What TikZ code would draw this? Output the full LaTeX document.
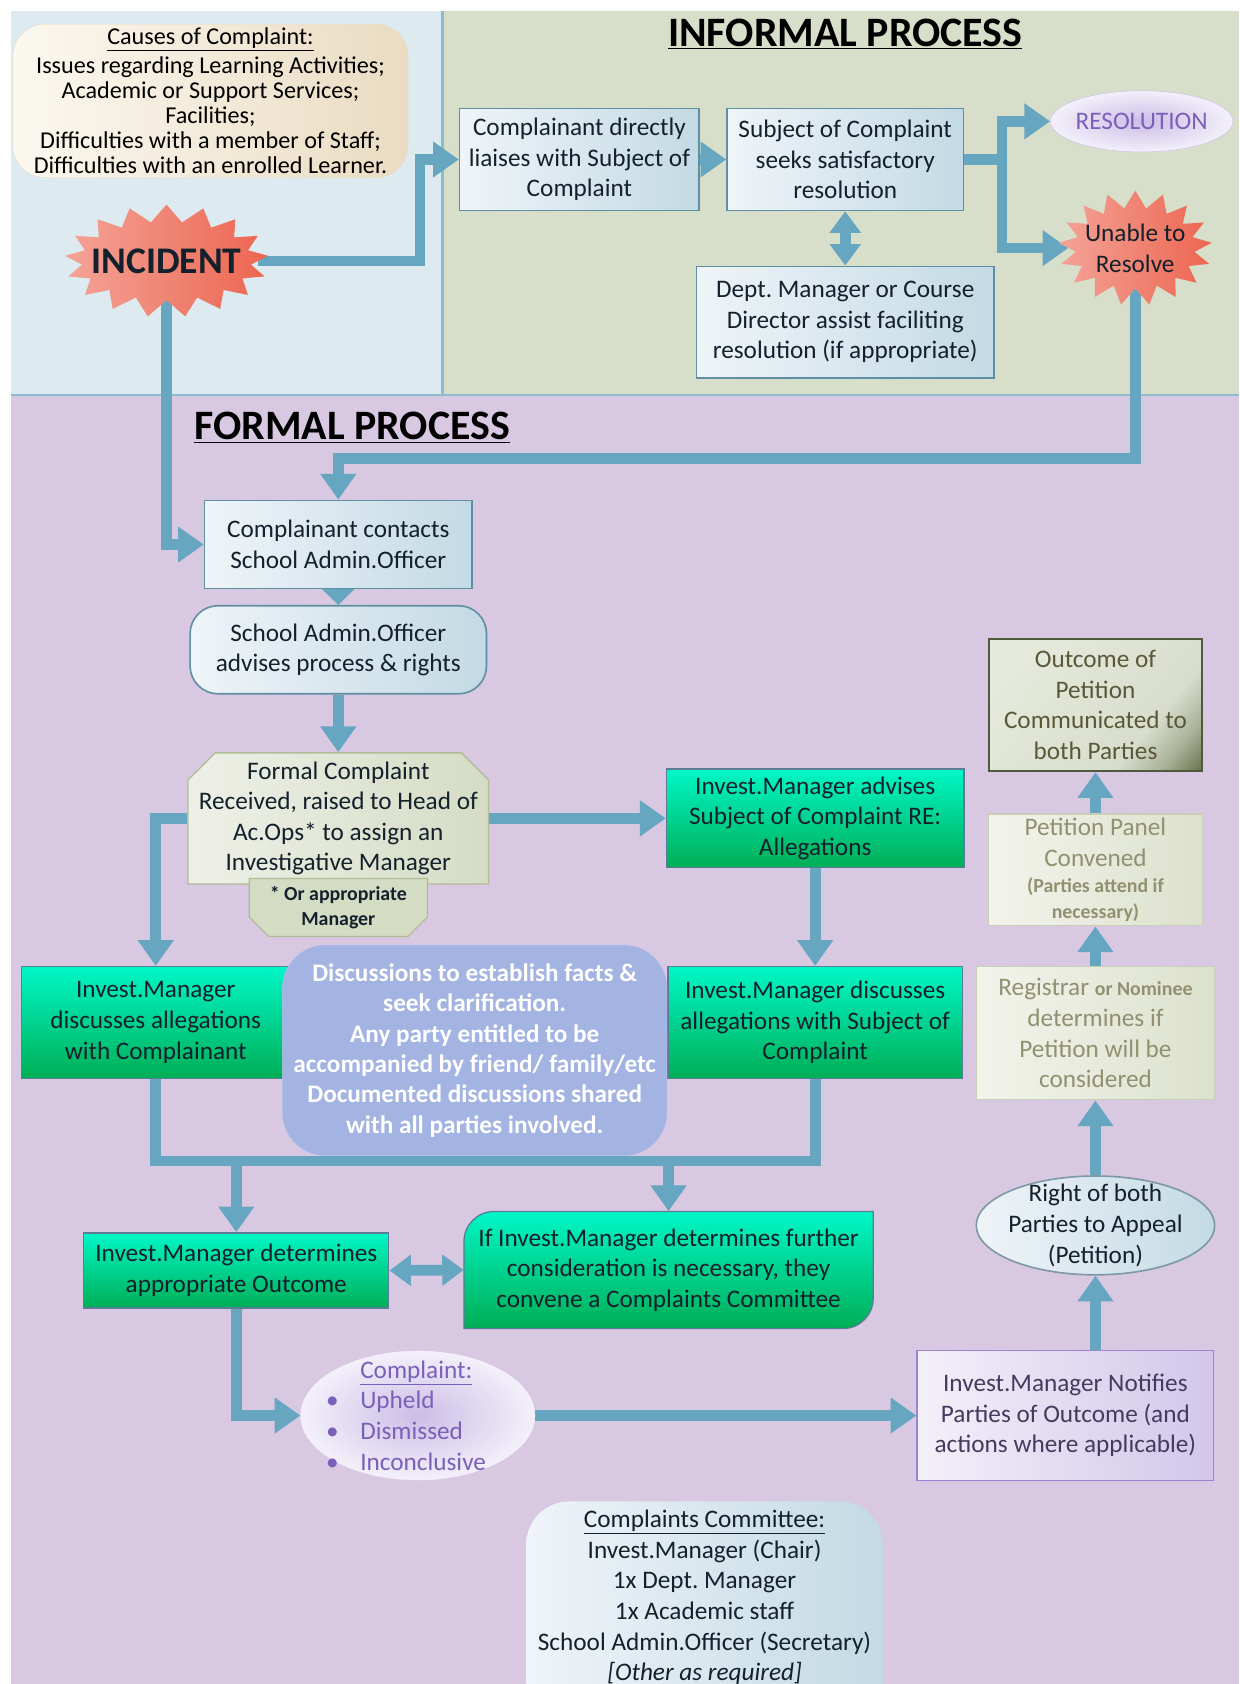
\documentclass[tikz,border=0pt]{standalone}
\usepackage{fontspec}
\setmainfont{Carlito}
\usetikzlibrary{arrows.meta,shapes.symbols,shapes.misc,shapes.geometric}

\definecolor{pipeblue}{HTML}{67A6C0}
\definecolor{paneblue}{HTML}{DDEBF1}
\definecolor{panegreen}{HTML}{D7DFCB}
\definecolor{panepurple}{HTML}{D8C8E2}
\definecolor{paneline}{HTML}{8DBBD0}
\definecolor{iceA}{HTML}{EFF4F8}
\definecolor{iceB}{HTML}{C3DAE4}
\definecolor{iceedge}{HTML}{5F8FA3}
\definecolor{mintA}{HTML}{00F7C8}
\definecolor{mintB}{HTML}{00AE55}
\definecolor{mintedge}{HTML}{5A7C96}
\definecolor{sandA}{HTML}{FBF8F0}
\definecolor{sandB}{HTML}{EADCC2}
\definecolor{coralA}{HTML}{F4A397}
\definecolor{coralB}{HTML}{EC6651}
\definecolor{lilacA}{HTML}{CBBDE7}
\definecolor{lilacB}{HTML}{F3F0FA}
\definecolor{lilactext}{HTML}{7A60B8}
\definecolor{sageA}{HTML}{F2F4EC}
\definecolor{sageB}{HTML}{DCE1CC}
\definecolor{sageedge}{HTML}{C9CFB6}
\definecolor{sagetext}{HTML}{929070}
\definecolor{formalA}{HTML}{EEF0E8}
\definecolor{formalB}{HTML}{D5DCC4}
\definecolor{formaledge}{HTML}{B0BC98}
\definecolor{oliveA}{HTML}{E6EADC}
\definecolor{oliveB}{HTML}{6F7A55}
\definecolor{oliveedge}{HTML}{4E5A3E}
\definecolor{olivetext}{HTML}{5A5838}
\definecolor{periwinkle}{HTML}{A3B3E2}
\definecolor{notifyA}{HTML}{F3F0F9}
\definecolor{notifyB}{HTML}{D2C7EA}
\definecolor{notifyedge}{HTML}{9A84D4}
\definecolor{notifytext}{HTML}{463A5E}
\definecolor{appealedge}{HTML}{7D98A6}
\definecolor{inkdark}{HTML}{14202C}

\pgfdeclarehorizontalshading{olivecorner}{100bp}{color(0bp)=(oliveA); color(25bp)=(oliveA); color(66bp)=(oliveA!88!oliveB); color(76bp)=(oliveA!50!oliveB); color(84bp)=(oliveB); color(100bp)=(oliveB)}

\pgfdeclarelayer{panes}
\pgfdeclarelayer{links}
\pgfsetlayers{panes,links,main}

\newcommand\mainsize{\fontsize{23.5}{28.5}\selectfont}
\newcommand\notesize{\fontsize{18.5}{24}\selectfont}
\newcommand\causesize{\fontsize{22.5}{23.5}\selectfont}
\newcommand\titlesize{\fontsize{39}{44}\selectfont}

\tikzset{
  pipe/.style={draw=pipeblue, line width=10pt},
  flow/.style={pipe, -{Triangle[width=32pt,length=24pt]}},
  twoway/.style={pipe, {Triangle[width=28pt,length=20pt]}-{Triangle[width=28pt,length=20pt]}},
  plainbox/.style={rectangle, align=center, inner sep=0pt, font=\mainsize, text=inkdark},
  icebox/.style={plainbox, draw=iceedge, line width=1.5pt, left color=iceA, right color=iceB},
  mintbox/.style={plainbox, draw=mintedge, line width=1.2pt, top color=mintA, bottom color=mintB},
  sagebox/.style={plainbox, draw=sageedge, line width=1.2pt, left color=sageA, right color=sageB, text=sagetext},
  burst/.style={starburst, starburst points=17, starburst point height=16pt, random starburst=0,
    left color=coralA, right color=coralB, inner sep=0pt},
}

\begin{document}
\frenchspacing
\begin{tikzpicture}[x=1pt,y=-1pt]
\useasboundingbox (0,0) rectangle (1154,1568);
\clip (0,0) rectangle (1154,1568);

% panels
\begin{pgfonlayer}{panes}
\fill[white] (0,0) rectangle (1154,1568);
\fill[paneblue] (10,10) rectangle (412,368);
\fill[panegreen] (412,10) rectangle (1154,368);
\fill[panepurple] (10,368) rectangle (1154,1568);
\draw[paneline, line width=2pt] (412,10) -- (412,368) (10,368) -- (1154,368);
\end{pgfonlayer}

\node[font=\titlesize\bfseries] (informal) at (787,32) {\underline{INFORMAL PROCESS}};
\node[font=\titlesize\bfseries] (formal) at (328,398) {\underline{FORMAL PROCESS}};

% informal process
\node[plainbox, rounded corners=30pt, draw=sandB, left color=sandA, right color=sandB,
  minimum width=368pt, minimum height=143pt, font=\causesize, text=black] (causes) at (196,94)
  {\underline{Causes of Complaint:}\\[3pt]Issues regarding Learning Activities;\\Academic or Support Services;\\Facilities;\\Difficulties with a member of Staff;\\Difficulties with an enrolled Learner.};
\node[burst, minimum width=190pt, minimum height=105pt,
  label={[font=\fontsize{35}{40}\selectfont\bfseries, text=inkdark]center:INCIDENT}] (incident) at (155,243) {};

\node[icebox, minimum width=223pt, minimum height=95pt] (liaise) at (539.5,148.5) {Complainant directly\\liaises with Subject of\\Complaint};
\node[icebox, minimum width=220pt, minimum height=95pt] (seek) at (787,148.5) {Subject of Complaint\\seeks satisfactory\\resolution};
\node[icebox, minimum width=277pt, minimum height=104pt] (assist) at (787,300) {Dept. Manager or Course\\Director assist faciliting\\resolution (if appropriate)};
\node[ellipse, draw=lilacA, inner color=lilacA, outer color=lilacB, minimum width=170pt, minimum height=57pt,
  label={[font=\mainsize, text=lilactext]center:RESOLUTION}] (resolution) at (1063,113) {};
\node[burst, minimum width=143pt, minimum height=107pt,
  label={[font=\mainsize, text=inkdark, align=center]center:Unable to\\Resolve}] (unable) at (1057,231) {};

% formal process
\node[icebox, minimum width=249pt, minimum height=82pt] (contacts) at (315,507) {Complainant contacts\\School Admin.Officer};
\node[icebox, rounded corners=26pt, minimum width=276pt, minimum height=82pt] (advises) at (315,605) {School Admin.Officer\\advises process \& rights};
\node[plainbox, chamfered rectangle, chamfered rectangle corners={north west,north east}, chamfered rectangle xsep=22pt,
  inner xsep=-12pt, draw=formaledge, line width=1.2pt, left color=formalA, right color=formalB,
  minimum width=277pt, minimum height=122pt] (received) at (315,762) {Formal Complaint\\Received, raised to Head of\\Ac.Ops* to assign an\\Investigative Manager};
\node[plainbox, chamfered rectangle, chamfered rectangle corners={south west,south east}, chamfered rectangle xsep=15pt,
  draw=formaledge, line width=1.2pt, fill=formalB, font=\notesize\bfseries,
  minimum width=166pt, minimum height=54pt] (note) at (315,845) {* Or appropriate\\Manager};

\node[mintbox, minimum width=277pt, minimum height=92pt] (advise) at (759,762) {Invest.Manager advises\\Subject of Complaint RE:\\Allegations};
\node[mintbox, minimum width=250pt, minimum height=104pt] (withcompl) at (145,952) {Invest.Manager\\discusses allegations\\with Complainant};
\node[mintbox, minimum width=274pt, minimum height=104pt] (withsubj) at (759,952) {Invest.Manager discusses\\allegations with Subject of\\Complaint};
\node[plainbox, rounded corners=40pt, fill=periwinkle, draw=periwinkle!80!white, text=white, font=\fontsize{23.5}{28.3}\selectfont\bfseries,
  minimum width=358pt, minimum height=196pt] (discuss) at (442,978) {Discussions to establish facts \&\\seek clarification.\\Any party entitled to be\\accompanied by friend/ family/etc\\Documented discussions shared\\with all parties involved.};

\node[mintbox, minimum width=284pt, minimum height=70pt] (outcome) at (220,1183) {Invest.Manager determines\\appropriate Outcome};
\shade[top color=mintA, bottom color=mintB, draw=mintedge, line width=1.2pt]
  (432,1237) -- (432,1156) arc[start angle=180, end angle=270, radius=28] -- (813,1128)
  -- (813,1209) arc[start angle=0, end angle=90, radius=28] -- cycle;
\node[plainbox, minimum width=381pt, minimum height=109pt] (further) at (622.5,1182.5) {If Invest.Manager determines further\\consideration is necessary, they\\convene a Complaints Committee};

\node[ellipse, draw=lilacB, inner color=lilacA, outer color=lilacB, minimum width=218pt, minimum height=120pt,
  label={[font=\mainsize, text=lilactext, align=left, xshift=5pt]center:\underline{Complaint:}\\\llap{\textbullet\hspace{20pt}}Upheld\\\llap{\textbullet\hspace{20pt}}Dismissed\\\llap{\textbullet\hspace{20pt}}Inconclusive}] (verdict) at (389,1318) {};
\node[plainbox, draw=notifyedge, line width=1.5pt, left color=notifyA, right color=notifyB, text=notifytext,
  minimum width=276pt, minimum height=121pt] (notify) at (992,1318) {Invest.Manager Notifies\\Parties of Outcome (and\\actions where applicable)};

\node[ellipse, draw=appealedge, line width=1.5pt, left color=iceA, right color=iceB, minimum width=222pt, minimum height=92pt,
  label={[font=\mainsize, text=inkdark, align=center]center:Right of both\\Parties to Appeal\\(Petition)}] (appeal) at (1020,1141) {};
\node[sagebox, minimum width=222pt, minimum height=124pt] (registrar) at (1020,962) {Registrar {\notesize\bfseries or Nominee}\\determines if\\Petition will be\\considered};
\node[sagebox, minimum width=199pt, minimum height=104pt] (panel) at (1020,810) {Petition Panel\\Convened\\[-4pt]{\notesize\bfseries (Parties attend if}\\[-4pt]{\notesize\bfseries necessary)}};
\node[plainbox, draw=oliveedge, line width=2pt, shading=olivecorner, shading angle=-40, text=olivetext,
  minimum width=199pt, minimum height=123pt] (petout) at (1020,656.5) {Outcome of\\Petition\\Communicated to\\both Parties};

\shade[left color=iceA, right color=iceB]
  (490,1600) -- (490,1438) arc[start angle=180, end angle=270, radius=40] -- (782,1398)
  arc[start angle=270, end angle=360, radius=40] -- (822,1600) -- cycle;
\node[plainbox, anchor=north] (committee) at (656,1406) {\underline{Complaints Committee:}\\Invest.Manager (Chair)\\1x Dept. Manager\\1x Academic staff\\School Admin.Officer (Secretary)\\\textit{[Other as required]}};

% connectors
\begin{pgfonlayer}{links}
\coordinate (turn) at (391,0);
\coordinate (fork) at (933,148.5);
\coordinate (drop) at (0,427);
\coordinate (bar) at (0,1081);
\draw[flow] (incident.east) -- (incident.east -| turn) |- (liaise.west);
\draw[flow] (liaise.east) -- (seek.west);
\draw[pipe] (seek.east) -- (fork);
\draw[flow] (fork) |- (resolution.west);
\draw[flow] (fork) |- (unable.west);
\draw[twoway] (seek.south) -- (assist.north);
\draw[flow] (unable.south) -- (unable.south |- drop) -| (contacts.north);
\draw[flow] (incident.south) |- (contacts.west);
\draw[pipe, -{Triangle[width=32pt,length=16pt]}] (contacts.south) -- (advises.north);
\draw[flow] (advises.south) -- (received.north);
\draw[flow] (received.west) -| (withcompl.north);
\draw[flow] (received.east) -- (advise.west);
\draw[flow] (advise.south) -- (withsubj.north);
\draw[pipe] (withcompl.south) |- (withsubj.south |- bar) -- (withsubj.south);
\draw[flow] (outcome.north |- bar) -- (outcome.north);
\draw[flow] (further.north |- bar) -- (further.north);
\draw[twoway] (outcome.east) -- (further.west);
\draw[flow] (outcome.south) |- (verdict.west);
\draw[flow] (verdict.east) -- (notify.west);
\draw[flow] (appeal.south |- notify.north) -- (appeal.south);
\draw[flow] (appeal.north) -- (registrar.south);
\draw[flow] (registrar.north) -- (panel.south);
\draw[flow] (panel.north) -- (petout.south);
\end{pgfonlayer}

\end{tikzpicture}
\end{document}
